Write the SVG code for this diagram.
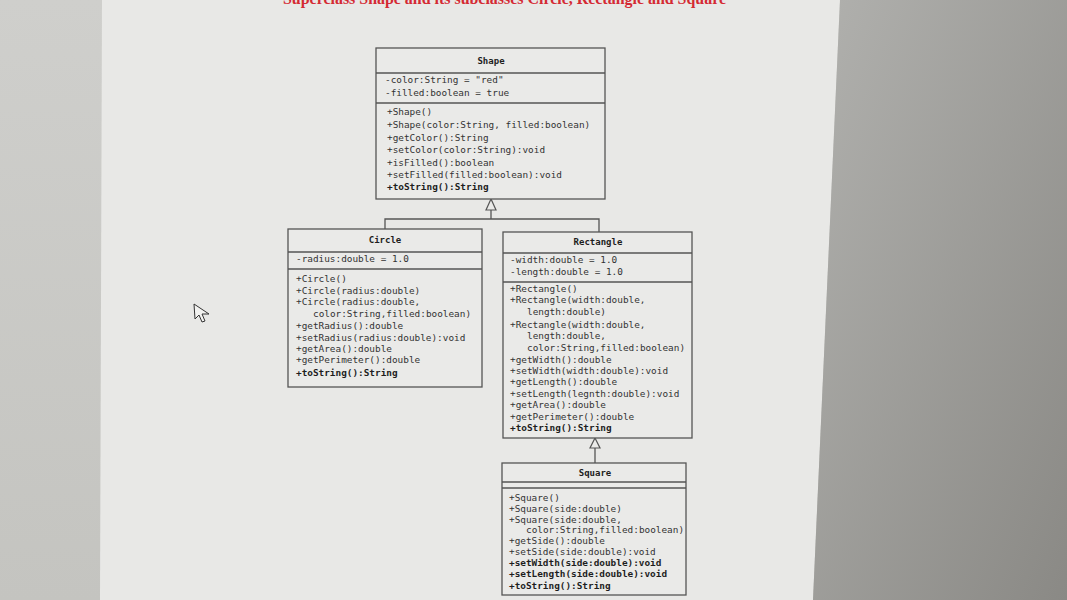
<svg xmlns="http://www.w3.org/2000/svg" width="1067" height="600" viewBox="0 0 1067 600">
<defs>
<linearGradient id="rg" x1="0" y1="0" x2="1" y2="1">
<stop offset="0" stop-color="#b1b1ae"/>
<stop offset="1" stop-color="#8a8985"/>
</linearGradient>
<linearGradient id="lg" x1="0" y1="0" x2="0" y2="1">
<stop offset="0" stop-color="#cfcfcc"/>
<stop offset="1" stop-color="#c4c4c0"/>
</linearGradient>
<style>
.box{fill:#eaeae8;stroke:#555;stroke-width:1.3}
.div{stroke:#555;stroke-width:1.3}
.t{font-family:"DejaVu Sans Mono","Liberation Mono",monospace;font-size:9.4px;fill:#333}
.b{font-weight:bold;fill:#1e1e1e}
.h{font-family:"DejaVu Sans Mono","Liberation Mono",monospace;font-size:9px;font-weight:bold;fill:#1e1e1e;text-anchor:middle}
.c{fill:none;stroke:#555;stroke-width:1.3}
.tri{fill:#eaeae8;stroke:#555;stroke-width:1.2}
</style>
</defs>
<rect x="0" y="0" width="1067" height="600" fill="url(#lg)"/>
<polygon points="102,0 840,0 813,600 100,600" fill="#e8e8e6"/>
<polygon points="840,0 1067,0 1067,600 813,600" fill="url(#rg)"/>
<text x="283" y="4" textLength="443" lengthAdjust="spacingAndGlyphs" font-family="'Liberation Serif',serif" font-weight="bold" font-size="16" fill="#d42a33">Superclass Shape and its subclasses Circle, Rectangle and Square</text>

<g id="connectors">
<polygon class="tri" points="491,199 486,210 496,210"/>
<polyline class="c" points="491,210 491,219"/>
<polyline class="c" points="385,229 385,219 599,219 599,232"/>
<polygon class="tri" points="595,438 590,448 600,448"/>
<polyline class="c" points="595,448 595,463"/>
</g>

<g id="Shape">
<rect class="box" x="376" y="48" width="229" height="151"/>
<line class="div" x1="376" y1="73" x2="605" y2="73"/>
<line class="div" x1="376" y1="103" x2="605" y2="103"/>
<text class="h" x="491" y="64">Shape</text>
<text class="t" x="385" y="83">-color:String = "red"</text>
<text class="t" x="385" y="96">-filled:boolean = true</text>
<text class="t" x="387" y="115">+Shape()</text>
<text class="t" x="387" y="128">+Shape(color:String, filled:boolean)</text>
<text class="t" x="387" y="141">+getColor():String</text>
<text class="t" x="387" y="153">+setColor(color:String):void</text>
<text class="t" x="387" y="166">+isFilled():boolean</text>
<text class="t" x="387" y="178">+setFilled(filled:boolean):void</text>
<text class="t b" x="387" y="190">+toString():String</text>
</g>

<g id="Circle">
<rect class="box" x="288" y="229" width="194" height="158"/>
<line class="div" x1="288" y1="252" x2="482" y2="252"/>
<line class="div" x1="288" y1="269" x2="482" y2="269"/>
<text class="h" x="385" y="243">Circle</text>
<text class="t" x="296" y="262">-radius:double = 1.0</text>
<text class="t" x="296" y="282">+Circle()</text>
<text class="t" x="296" y="294">+Circle(radius:double)</text>
<text class="t" x="296" y="305">+Circle(radius:double,</text>
<text class="t" x="313" y="317">color:String,filled:boolean)</text>
<text class="t" x="296" y="329">+getRadius():double</text>
<text class="t" x="296" y="341">+setRadius(radius:double):void</text>
<text class="t" x="296" y="352">+getArea():double</text>
<text class="t" x="296" y="363">+getPerimeter():double</text>
<text class="t b" x="296" y="376">+toString():String</text>
</g>

<g id="Rectangle">
<rect class="box" x="503" y="232" width="189" height="206"/>
<line class="div" x1="503" y1="253" x2="692" y2="253"/>
<line class="div" x1="503" y1="282" x2="692" y2="282"/>
<text class="h" x="598" y="245">Rectangle</text>
<text class="t" x="510" y="263">-width:double = 1.0</text>
<text class="t" x="510" y="275">-length:double = 1.0</text>
<text class="t" x="510" y="292">+Rectangle()</text>
<text class="t" x="510" y="303">+Rectangle(width:double,</text>
<text class="t" x="527" y="315">length:double)</text>
<text class="t" x="510" y="328">+Rectangle(width:double,</text>
<text class="t" x="527" y="339">length:double,</text>
<text class="t" x="527" y="351">color:String,filled:boolean)</text>
<text class="t" x="510" y="363">+getWidth():double</text>
<text class="t" x="510" y="374">+setWidth(width:double):void</text>
<text class="t" x="510" y="385">+getLength():double</text>
<text class="t" x="510" y="397">+setLength(legnth:double):void</text>
<text class="t" x="510" y="408">+getArea():double</text>
<text class="t" x="510" y="420">+getPerimeter():double</text>
<text class="t b" x="510" y="431">+toString():String</text>
</g>

<g id="Square">
<rect class="box" x="502" y="463" width="184" height="132"/>
<line class="div" x1="502" y1="482" x2="686" y2="482"/>
<line class="div" x1="502" y1="488" x2="686" y2="488"/>
<text class="h" x="595" y="476">Square</text>
<text class="t" x="509" y="501" font-size="9">+Square()</text>
<text class="t" x="509" y="512" font-size="9">+Square(side:double)</text>
<text class="t" x="509" y="523" font-size="9">+Square(side:double,</text>
<text class="t" x="526" y="533" font-size="9">color:String,filled:boolean)</text>
<text class="t" x="509" y="544" font-size="9">+getSide():double</text>
<text class="t" x="509" y="555" font-size="9">+setSide(side:double):void</text>
<text class="t b" x="509" y="566" font-size="9">+setWidth(side:double):void</text>
<text class="t b" x="509" y="577" font-size="9">+setLength(side:double):void</text>
<text class="t b" x="509" y="589" font-size="9">+toString():String</text>
</g>

<path d="M194,304 L195,319 L199,315 L202,322 L205,321 L202,314 L209,314 Z" fill="#f2f2f0" stroke="#333" stroke-width="1"/>
</svg>
